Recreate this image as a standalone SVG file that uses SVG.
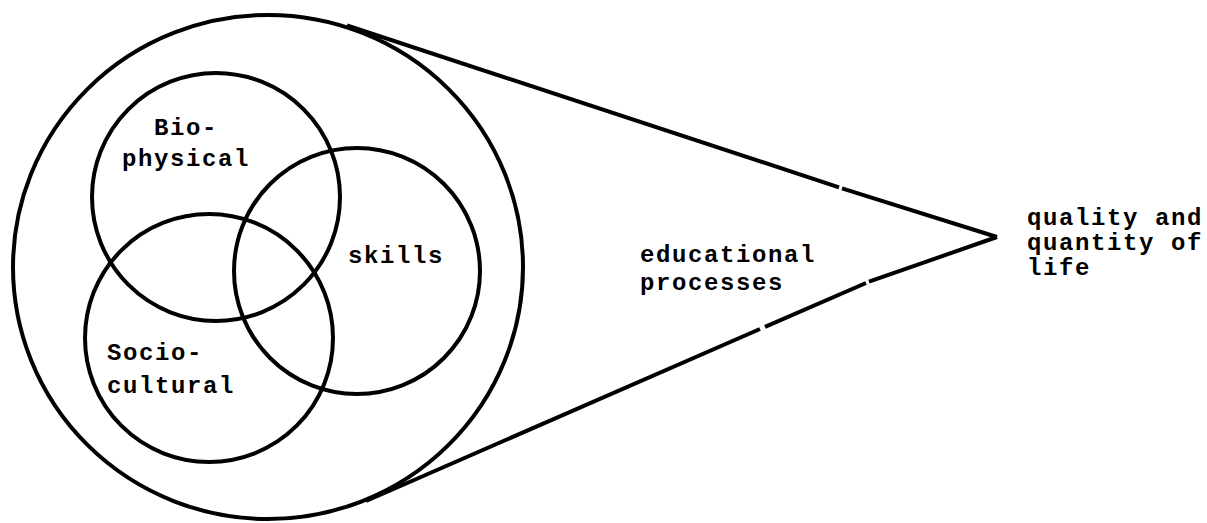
<svg xmlns="http://www.w3.org/2000/svg" width="1207" height="523" viewBox="0 0 1207 523">
<style>
.c{fill:none;stroke:#000;stroke-width:4}
.l{fill:none;stroke:#000;stroke-width:4}
text{font-family:"Liberation Mono","Courier New",monospace;font-size:24px;letter-spacing:1.6px;font-weight:bold;fill:#000}
</style>
<rect width="1207" height="523" fill="#fff"/>
<g id="outer"><ellipse class="c" cx="268" cy="267" rx="255" ry="252"/></g>
<g id="connectors">
<path class="l" d="M347 25.5 L839 187.3 M842 188.3 L997 237"/>
<path class="l" d="M366 501 L760 329 M765 326.8 L866 283 M869 281.7 L997 237"/>
</g>
<g id="biophysical">
<circle class="c" cx="216" cy="197" r="124"/>
<text x="154" y="135">Bio-</text>
<text x="122" y="166">physical</text>
</g>
<g id="skills">
<circle class="c" cx="357" cy="271" r="123"/>
<text x="348" y="263">skills</text>
</g>
<g id="sociocultural">
<circle class="c" cx="209" cy="338" r="124"/>
<text x="107" y="360">Socio-</text>
<text x="107" y="393">cultural</text>
</g>
<g id="educational">
<text x="640" y="262">educational</text>
<text x="640" y="290">processes</text>
</g>
<g id="quality">
<text x="1027" y="225">quality and</text>
<text x="1027" y="250">quantity of</text>
<text x="1027" y="275">life</text>
</g>
</svg>
